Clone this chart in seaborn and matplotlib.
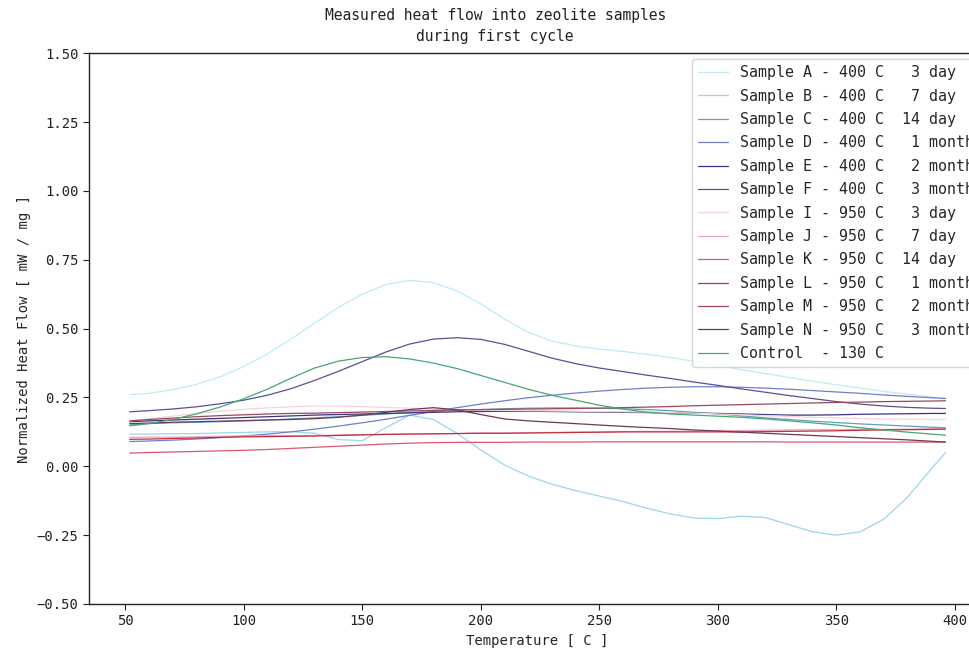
import matplotlib
matplotlib.use("Agg")
import matplotlib.pyplot as plt
import seaborn as sns
import pandas as pd

# ---------------- data ----------------
temperature = [52, 60, 70, 80, 90, 100, 110, 120, 130, 140, 150, 160, 170, 180, 190, 200,
               210, 220, 230, 240, 250, 260, 270, 280, 290, 300, 310, 320, 330, 340, 350,
               360, 370, 380, 390, 396]

sample_A = [0.260, 0.265, 0.278, 0.297, 0.325, 0.362, 0.408, 0.462, 0.520, 0.577, 0.625, 0.660,
            0.675, 0.667, 0.637, 0.590, 0.535, 0.487, 0.455, 0.437, 0.426, 0.417, 0.407, 0.395,
            0.381, 0.366, 0.351, 0.337, 0.323, 0.309, 0.296, 0.284, 0.272, 0.262, 0.252, 0.247]
sample_B = [0.117, 0.117, 0.118, 0.119, 0.121, 0.123, 0.125, 0.126, 0.120, 0.097, 0.093, 0.140,
            0.186, 0.170, 0.120, 0.060, 0.005, -0.035, -0.065, -0.088, -0.108, -0.128, -0.152,
            -0.173, -0.188, -0.190, -0.181, -0.186, -0.212, -0.238, -0.250, -0.238, -0.192,
            -0.112, -0.010, 0.050]
sample_C = [0.150, 0.155, 0.158, 0.160, 0.162, 0.165, 0.168, 0.172, 0.176, 0.180, 0.185, 0.190,
            0.195, 0.199, 0.203, 0.206, 0.209, 0.211, 0.212, 0.212, 0.211, 0.209, 0.206, 0.202,
            0.196, 0.190, 0.183, 0.176, 0.170, 0.164, 0.159, 0.154, 0.150, 0.146, 0.142, 0.140]
sample_D = [0.090, 0.092, 0.095, 0.099, 0.104, 0.110, 0.117, 0.125, 0.135, 0.146, 0.158, 0.171,
            0.185, 0.199, 0.213, 0.226, 0.238, 0.249, 0.258, 0.266, 0.273, 0.279, 0.284, 0.287,
            0.289, 0.289, 0.287, 0.284, 0.280, 0.275, 0.270, 0.265, 0.259, 0.254, 0.249, 0.246]
sample_E = [0.162, 0.165, 0.168, 0.171, 0.174, 0.177, 0.180, 0.183, 0.186, 0.188, 0.190, 0.192,
            0.194, 0.196, 0.198, 0.199, 0.200, 0.200, 0.199, 0.198, 0.197, 0.196, 0.195, 0.194,
            0.193, 0.192, 0.190, 0.188, 0.186, 0.186, 0.187, 0.189, 0.190, 0.191, 0.192, 0.192]
sample_F = [0.198, 0.202, 0.208, 0.216, 0.227, 0.240, 0.258, 0.282, 0.312, 0.345, 0.380, 0.415,
            0.444, 0.462, 0.467, 0.461, 0.443, 0.418, 0.393, 0.373, 0.357, 0.344, 0.331, 0.319,
            0.306, 0.294, 0.281, 0.269, 0.257, 0.246, 0.235, 0.226, 0.219, 0.214, 0.211, 0.210]
sample_I = [0.165, 0.172, 0.182, 0.192, 0.200, 0.207, 0.212, 0.216, 0.219, 0.219, 0.217, 0.214,
            0.211, 0.208, 0.206, 0.204, 0.203, 0.202, 0.201, 0.200, 0.199, 0.198, 0.197, 0.195,
            0.193, 0.190, 0.187, 0.184, 0.181, 0.178, 0.176, 0.174, 0.172, 0.171, 0.170, 0.170]
sample_J = [0.105, 0.106, 0.106, 0.107, 0.109, 0.110, 0.111, 0.111, 0.112, 0.114, 0.115, 0.116,
            0.118, 0.118, 0.119, 0.121, 0.121, 0.122, 0.123, 0.124, 0.124, 0.126, 0.127, 0.127,
            0.128, 0.130, 0.130, 0.131, 0.132, 0.133, 0.133, 0.134, 0.134, 0.135, 0.136, 0.136]
sample_K = [0.048, 0.050, 0.052, 0.054, 0.056, 0.058, 0.061, 0.065, 0.069, 0.073, 0.077, 0.081,
            0.084, 0.086, 0.087, 0.087, 0.087, 0.088, 0.088, 0.088, 0.089, 0.089, 0.089, 0.089,
            0.089, 0.089, 0.089, 0.089, 0.088, 0.088, 0.088, 0.088, 0.088, 0.088, 0.088, 0.088]
sample_L = [0.098, 0.099, 0.101, 0.103, 0.105, 0.107, 0.108, 0.109, 0.110, 0.112, 0.114, 0.116,
            0.117, 0.118, 0.119, 0.120, 0.120, 0.121, 0.122, 0.123, 0.124, 0.125, 0.125, 0.125,
            0.125, 0.125, 0.125, 0.126, 0.127, 0.128, 0.129, 0.131, 0.132, 0.133, 0.134, 0.135]
sample_M = [0.165, 0.170, 0.175, 0.180, 0.184, 0.187, 0.190, 0.192, 0.193, 0.195, 0.197, 0.199,
            0.201, 0.203, 0.205, 0.206, 0.207, 0.208, 0.209, 0.210, 0.211, 0.213, 0.215, 0.217,
            0.220, 0.222, 0.224, 0.226, 0.228, 0.230, 0.232, 0.233, 0.235, 0.236, 0.237, 0.238]
sample_N = [0.155, 0.157, 0.160, 0.162, 0.164, 0.166, 0.168, 0.170, 0.173, 0.178, 0.186, 0.196,
            0.206, 0.213, 0.205, 0.188, 0.172, 0.165, 0.160, 0.155, 0.150, 0.145, 0.141, 0.137,
            0.132, 0.128, 0.124, 0.120, 0.116, 0.112, 0.108, 0.104, 0.100, 0.096, 0.091, 0.088]
control = [0.147, 0.155, 0.170, 0.190, 0.215, 0.245, 0.280, 0.320, 0.357, 0.382, 0.395, 0.398,
           0.390, 0.375, 0.355, 0.330, 0.305, 0.280, 0.258, 0.240, 0.222, 0.208, 0.197, 0.190,
           0.186, 0.182, 0.178, 0.172, 0.165, 0.158, 0.150, 0.140, 0.132, 0.124, 0.117, 0.113]

labels = [
    "Sample A - 400 C   3 day",
    "Sample B - 400 C   7 day",
    "Sample C - 400 C  14 day",
    "Sample D - 400 C   1 month",
    "Sample E - 400 C   2 month",
    "Sample F - 400 C   3 month",
    "Sample I - 950 C   3 day",
    "Sample J - 950 C   7 day",
    "Sample K - 950 C  14 day",
    "Sample L - 950 C   1 month",
    "Sample M - 950 C   2 month",
    "Sample N - 950 C   3 month",
    "Control  - 130 C",
]
series = [sample_A, sample_B, sample_C, sample_D, sample_E, sample_F,
          sample_I, sample_J, sample_K, sample_L, sample_M, sample_N, control]
colors = ["#bdebf5", "#98d6ef", "#5f9fc2", "#6f7fcc", "#3a3482", "#5b4f96",
          "#f7d3dc", "#eba6b8", "#dc5670", "#c52c40", "#9c4a5a", "#6c3a56", "#45a870"]

# ---------------- build table ----------------
rows = []
for lab, vals in zip(labels, series):
    for t, v in zip(temperature, vals):
        rows.append({"Temperature": t, "Heat": v, "Sample": lab})
df = pd.DataFrame(rows)

sns.set_theme(style="ticks")
plt.rcParams["font.family"] = ["DejaVu Sans Mono", "DejaVu Sans"]
plt.rcParams["axes.edgecolor"] = "#222222"
plt.rcParams["axes.linewidth"] = 1.0

fig = plt.figure(figsize=(9.69, 6.51), dpi=100)
ax = fig.add_axes([0.0918, 0.0722, 0.926, 0.846])

sns.lineplot(data=df, x="Temperature", y="Heat", hue="Sample",
             palette=dict(zip(labels, colors)), hue_order=labels,
             estimator=None, sort=False, linewidth=0.9, ax=ax)

ax.set_ylim(-0.5, 1.5)
ax.set_yticks([-0.5, -0.25, 0.0, 0.25, 0.5, 0.75, 1.0, 1.25, 1.5])
ax.set_xticks([50, 100, 150, 200, 250, 300, 350, 400])
ax.tick_params(labelsize=10, colors="#222222", length=4, width=0.8)
ax.set_xlabel("Temperature [ C ]", fontsize=10)
ax.set_ylabel("Normalized Heat Flow [ mW / mg ]", fontsize=10)
fig.text(0.511, 0.987, "Measured heat flow into zeolite samples\nduring first cycle",
         ha="center", va="top", fontsize=10.5, linespacing=1.5, color="#222222")

leg = ax.legend(loc="upper right", fontsize=10.8, frameon=True, title=None,
                borderaxespad=0.4, labelspacing=0.56)
leg.get_frame().set_edgecolor("#cccccc")
for line in leg.get_lines():
    line.set_linewidth(0.9)

fig.savefig("out.png", dpi=100)
